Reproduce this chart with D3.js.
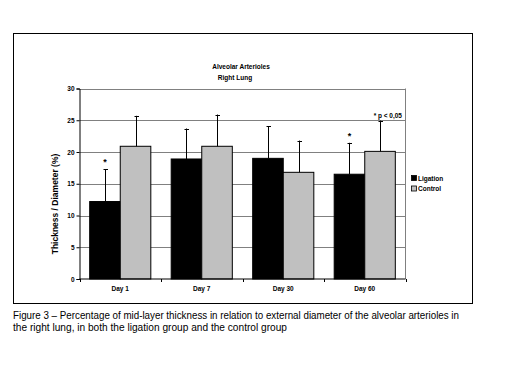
<!DOCTYPE html>
<html><head><meta charset="utf-8">
<script src="https://cdn.jsdelivr.net/npm/d3@7"></script>
<style>
html,body{margin:0;padding:0;background:#fff;}
svg{display:block;}
text{font-family:"Liberation Sans",Arial,sans-serif;}
</style></head>
<body>
<svg id="c" width="506" height="368"></svg>
<script>
const categories = ["Day 1","Day 7","Day 30","Day 60"];
const seriesNames = ["Ligation","Control"];
const ligation = [12.2, 18.9, 19.0, 16.5];
const ligationErr = [5.05, 4.8, 5.05, 4.95];
const control = [20.9, 20.9, 16.8, 20.1];
const controlErr = [4.8, 5.0, 5.0, 4.85];
const yTicks = [0, 5, 10, 15, 20, 25, 30];
const significant = [true, false, false, true]; // asterisk over ligation bar
const titleLines = ["Alveolar Arterioles", "Right Lung"];
const yTitle = "Thickness / Diameter (%)";
const note = "* p < 0,05";
const caption = ["Figure 3 \u2013 Percentage of mid-layer thickness in relation to external diameter of the alveolar arterioles in",
                 "the right lung, in both the ligation group and the control group"];

const svg = d3.select("#c");
const colors = ["#000000", "#c0c0c0"];

// outer frame
svg.append("rect").attr("x", 13.5).attr("y", 33.5).attr("width", 459).attr("height", 270)
  .attr("fill", "none").attr("stroke", "#000").attr("stroke-width", 1);

const L = 79.5, R = 405.5, T = 88.5, B = 279;
const x = d3.scaleBand().domain(categories).range([L, R]).paddingInner(0.25).paddingOuter(0.125);
const xs = d3.scaleBand().domain(seriesNames).range([0, x.bandwidth()]);
const y = d3.scaleLinear().domain([0, 30]).range([B, T]);

// gridlines
svg.append("g").selectAll("line").data(yTicks.filter(d => d > 0)).join("line")
  .attr("x1", L).attr("x2", R).attr("y1", d => Math.round(y(d)) + 0.5).attr("y2", d => Math.round(y(d)) + 0.5)
  .attr("stroke", "#808080").attr("stroke-width", 1);
// right border
svg.append("line").attr("x1", R).attr("x2", R).attr("y1", T).attr("y2", B).attr("stroke", "#808080");

// bars
const groups = [ligation, control];
const errs = [ligationErr, controlErr];
groups.forEach((vals, si) => {
  const g = svg.append("g");
  g.selectAll("rect").data(vals).join("rect")
    .attr("x", (d, i) => x(categories[i]) + xs(seriesNames[si]))
    .attr("y", d => y(d))
    .attr("width", xs.bandwidth())
    .attr("height", d => B - y(d))
    .attr("fill", colors[si]).attr("stroke", "#000").attr("stroke-width", 1);
  // error bars
  const eg = svg.append("g").attr("stroke", "#000").attr("stroke-width", 1);
  vals.forEach((v, i) => {
    const cx = Math.round(x(categories[i]) + xs(seriesNames[si]) + xs.bandwidth() / 2) + 0.5;
    const top = y(v + errs[si][i]);
    eg.append("line").attr("x1", cx).attr("x2", cx).attr("y1", y(v)).attr("y2", top);
    eg.append("line").attr("x1", cx - 2).attr("x2", cx + 2.5).attr("y1", Math.round(top) + 0.5).attr("y2", Math.round(top) + 0.5);
  });
});

// asterisks
significant.forEach((s, i) => {
  if (!s) return;
  const cx = x(categories[i]) + xs("Ligation") + xs.bandwidth() / 2;
  svg.append("text").attr("x", cx).attr("y", y(ligation[i] + ligationErr[i]) - 4)
    .attr("text-anchor", "middle").attr("font-size", 9).attr("font-weight", "bold").text("*");
});

// y axis
const yAxis = d3.axisLeft(y).tickValues(yTicks).tickSize(3).tickPadding(2);
const ga = svg.append("g").attr("transform", `translate(${L},0)`).call(yAxis);
ga.select(".domain").attr("stroke", "#000");
ga.selectAll("text").attr("font-size", 6.5).attr("font-weight", "bold").attr("fill", "#000").attr("font-family", "Liberation Sans, Arial, sans-serif");

// x axis
const gx = svg.append("g").attr("transform", `translate(0,${B})`);
gx.append("line").attr("x1", L).attr("x2", R).attr("stroke", "#000");
const bounds = [L].concat(categories.map(c => x(c) + x.bandwidth() + x.step() * 0.125));
gx.selectAll("line.tk").data(bounds).join("line").attr("class", "tk")
  .attr("x1", d => Math.round(d) + 0.5).attr("x2", d => Math.round(d) + 0.5).attr("y1", 0).attr("y2", 3).attr("stroke", "#000");
gx.selectAll("text").data(categories).join("text")
  .attr("x", d => x(d) + x.bandwidth() / 2).attr("y", 11.5)
  .attr("text-anchor", "middle").attr("font-size", 6.5).attr("font-weight", "bold").text(d => d);

// y title
svg.append("text").attr("transform", "translate(58,204) rotate(-90)")
  .attr("text-anchor", "middle").attr("font-size", 8.5).attr("font-weight", "bold").text(yTitle);

// title
svg.append("text").attr("x", 241).attr("y", 69).attr("text-anchor", "middle").attr("font-size", 6.5).attr("font-weight", "bold").text(titleLines[0]);
svg.append("text").attr("x", 235).attr("y", 79.5).attr("text-anchor", "middle").attr("font-size", 6.5).attr("font-weight", "bold").text(titleLines[1]);

// note
svg.append("text").attr("x", 402).attr("y", 117.5).attr("text-anchor", "end").attr("font-size", 6.5).attr("font-weight", "bold").text(note);

// legend
seriesNames.forEach((n, i) => {
  const ly = 178 + i * 10.5;
  svg.append("rect").attr("x", 411.5).attr("y", ly - 2.5).attr("width", 5).attr("height", 5)
    .attr("fill", colors[i]).attr("stroke", "#000").attr("stroke-width", 0.8);
  svg.append("text").attr("x", 418).attr("y", ly + 2.5).attr("font-size", 6.5).attr("font-weight", "bold").attr("fill", "#000").text(n);
});

// caption
svg.append("text").attr("x", 13).attr("y", 319).attr("font-size", 10)
  .attr("font-family", "Lato, 'Open Sans', sans-serif").attr("textLength", 446).attr("lengthAdjust", "spacingAndGlyphs").text(caption[0]);
svg.append("text").attr("x", 13).attr("y", 331).attr("font-size", 10)
  .attr("font-family", "Lato, 'Open Sans', sans-serif").attr("textLength", 274).attr("lengthAdjust", "spacingAndGlyphs").text(caption[1]);
</script>
</body></html>
